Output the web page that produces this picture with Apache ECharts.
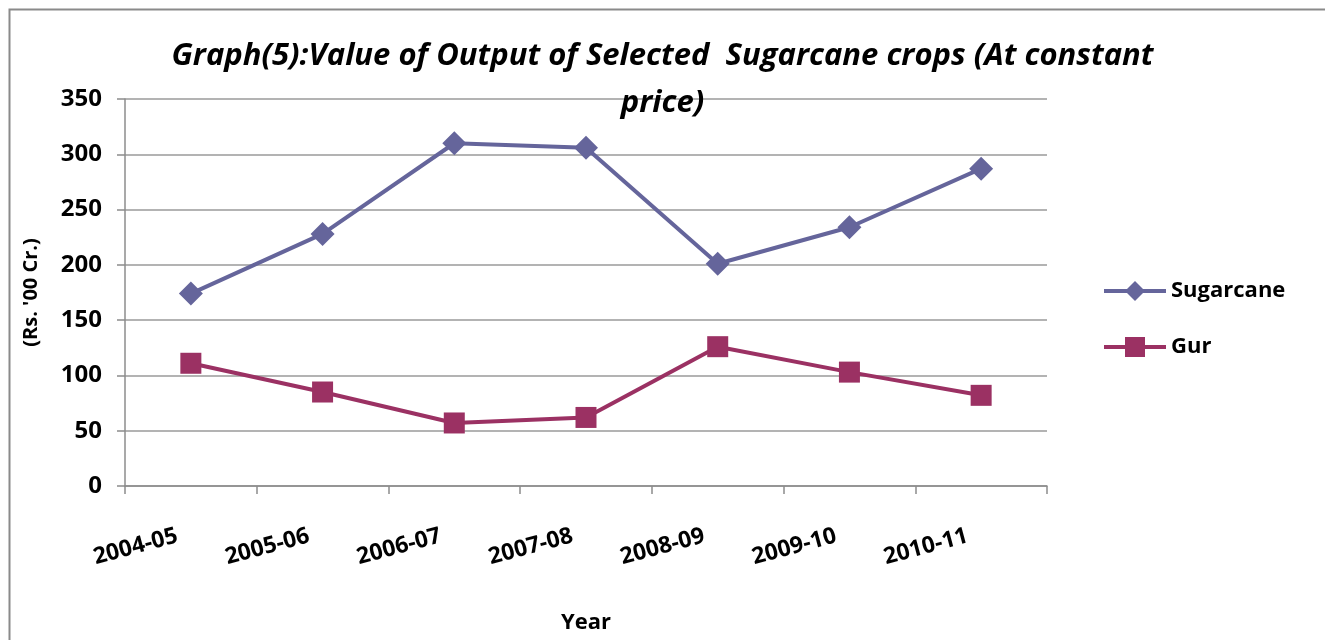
<!DOCTYPE html>
<html>
<head>
<meta charset="utf-8">
<script src="https://cdn.jsdelivr.net/npm/echarts@6/dist/echarts.min.js"></script>
<style>
html,body{margin:0;padding:0;background:#fff;overflow:hidden;}
#main{width:1325px;height:640px;}
</style>
</head>
<body>
<div id="main"></div>
<script>
var titleText = "Graph(5):Value of Output of Selected  Sugarcane crops (At constant\nprice)";
var categories = ['2004-05', '2005-06', '2006-07', '2007-08', '2008-09', '2009-10', '2010-11'];
var sugarcane = [174, 228, 310, 306, 201, 234, 287];
var gur = [111, 85, 57, 62, 126, 103, 82];
var yTicks = {min: 0, max: 350, interval: 50};
var yName = "(Rs. '00 Cr.)";
var xName = "Year";

var FONT = "'Open Sans', 'Noto Sans', sans-serif";
var chart = echarts.init(document.getElementById('main'), null, {renderer: 'canvas', width: 1325, height: 640});
chart.setOption({
  backgroundColor: '#fff',
  animation: false,
  graphic: [{
    type: 'rect', left: 7, top: 7, z: -1,
    shape: {width: 1340, height: 660},
    style: {fill: 'none', stroke: '#8a8a8a', lineWidth: 2}
  }],
  title: {
    text: titleText,
    left: 'center',
    top: 28,
    textStyle: {fontFamily: FONT, fontStyle: 'italic', fontWeight: 'bold', fontSize: 31, color: '#000', lineHeight: 47}
  },
  legend: {
    orient: 'vertical',
    left: 1097,
    top: 275,
    itemWidth: 62,
    itemHeight: 25,
    itemGap: 34,
    lineStyle: {width: 4},
    textStyle: {fontFamily: FONT, fontWeight: 'bold', fontSize: 22, color: '#000'},
    data: ['Sugarcane', 'Gur']
  },
  grid: {left: 125, width: 922, top: 99, height: 387, containLabel: false, outerBoundsMode: 'none'},
  xAxis: {
    type: 'category',
    data: categories,
    boundaryGap: true,
    name: xName,
    nameLocation: 'middle',
    nameGap: 126,
    nameTextStyle: {fontFamily: FONT, fontWeight: 'bold', fontSize: 22, color: '#000'},
    axisLine: {lineStyle: {color: '#8c8c8c', width: 1.5}},
    axisTick: {show: true, length: 8, inside: false, lineStyle: {color: '#8c8c8c', width: 1.5}},
    axisLabel: {rotate: 15, margin: 46, padding: [0, 14, 0, 0], fontFamily: FONT, fontWeight: 'bold', fontSize: 23, color: '#000'},
    splitLine: {show: false}
  },
  yAxis: {
    type: 'value',
    min: yTicks.min, max: yTicks.max, interval: yTicks.interval,
    name: yName,
    nameLocation: 'middle',
    nameGap: 84,
    nameRotate: 90,
    nameTextStyle: {fontFamily: FONT, fontWeight: 'bold', fontSize: 20, color: '#000'},
    axisLine: {show: true, lineStyle: {color: '#8c8c8c', width: 1.5}},
    axisTick: {show: true, length: 8, lineStyle: {color: '#8c8c8c', width: 1.5}},
    axisLabel: {margin: 23, fontFamily: FONT, fontWeight: 'bold', fontSize: 24, color: '#000'},
    splitLine: {show: true, lineStyle: {color: '#9a9a9a', width: 1.5}}
  },
  series: [{
    name: 'Sugarcane',
    type: 'line',
    data: sugarcane,
    symbol: 'diamond',
    symbolSize: 24,
    color: '#65659b',
    lineStyle: {width: 4, color: '#65659b'},
    itemStyle: {color: '#65659b'}
  }, {
    name: 'Gur',
    type: 'line',
    data: gur,
    symbol: 'rect',
    symbolSize: 21,
    color: '#9b3163',
    lineStyle: {width: 4, color: '#9b3163'},
    itemStyle: {color: '#9b3163'}
  }]
});
</script>
</body>
</html>
